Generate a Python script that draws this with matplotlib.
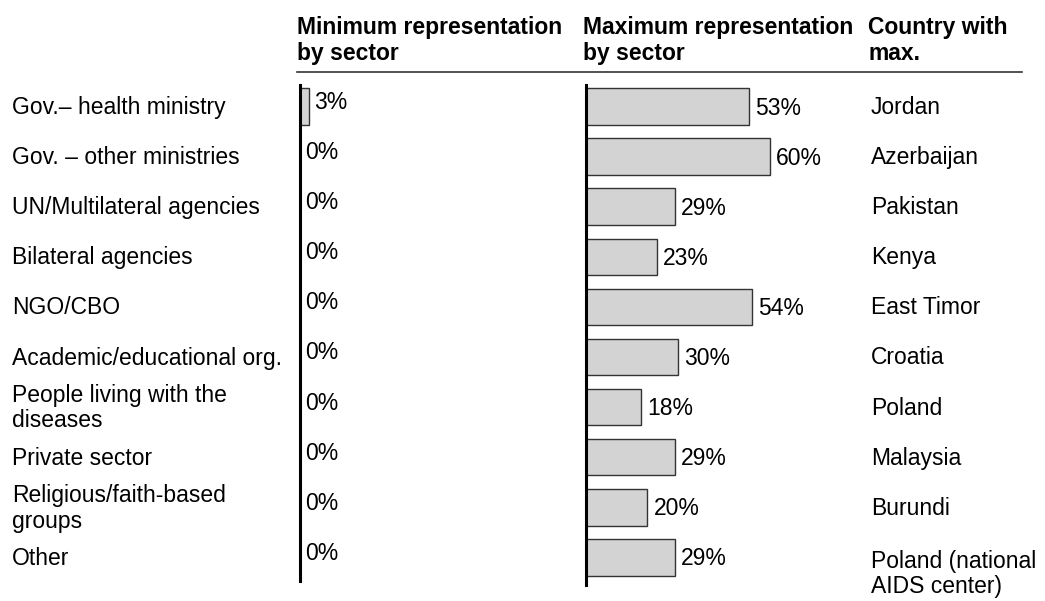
import matplotlib
matplotlib.use("Agg")
import matplotlib.pyplot as plt

plt.rcParams['font.family'] = ['Liberation Sans', 'DejaVu Sans']

sectors = ["Gov.\u2013 health ministry", "Gov. \u2013 other ministries",
           "UN/Multilateral agencies", "Bilateral agencies", "NGO/CBO",
           "Academic/educational org.", "People living with the\ndiseases",
           "Private sector", "Religious/faith-based\ngroups", "Other"]
min_rep = [3, 0, 0, 0, 0, 0, 0, 0, 0, 0]
max_rep = [53, 60, 29, 23, 54, 30, 18, 29, 20, 29]
countries = ["Jordan", "Azerbaijan", "Pakistan", "Kenya", "East Timor",
             "Croatia", "Poland", "Malaysia", "Burundi",
             "Poland (national\nAIDS center)"]

W, H = 1045, 601
fig = plt.figure(figsize=(W / 100, H / 100), dpi=100)

px_per = 3.07          # pixels per percentage point
row0, step = 106.5, 50.1
fs = 16.5


def fx(x):
    return x / W


def fy(y):
    return 1 - y / H


def make_ax(left, width, top, bottom):
    ax = fig.add_axes([fx(left), fy(bottom), width / W, (bottom - top) / H])
    ax.set_xlim(0, width / px_per)
    ax.set_ylim((bottom - row0) / step, (top - row0) / step)
    for s in ['top', 'right', 'bottom']:
        ax.spines[s].set_visible(False)
    ax.spines['left'].set_linewidth(2.2)
    ax.spines['left'].set_color('black')
    ax.set_xticks([])
    ax.set_yticks([])
    ax.patch.set_alpha(0)
    return ax


rows = list(range(len(sectors)))

ax1 = make_ax(300, 250, 85, 581)
ax1.barh(rows, min_rep, height=0.73, color='#d3d3d3', edgecolor='#333333', linewidth=1)
for i, v in enumerate(min_rep):
    ax1.text(v + 1.6, i - 0.08, f"{v}%", va='center', ha='left', fontsize=fs)

ax2 = make_ax(586, 270, 85, 585)
ax2.barh(rows, max_rep, height=0.73, color='#d3d3d3', edgecolor='#333333', linewidth=1)
for i, v in enumerate(max_rep):
    ax2.text(v + 2.0, i + 0.03, f"{v}%", va='center', ha='left', fontsize=fs)

# row labels and country names
for i, (s, c) in enumerate(zip(sectors, countries)):
    y = row0 + step * i
    fig.text(fx(12), fy(y + 1), s, ha='left', va='center', fontsize=fs, linespacing=1.15)
    if "\n" in c:
        fig.text(fx(871), fy(y - 7), c, ha='left', va='top', fontsize=fs, linespacing=1.1)
    else:
        fig.text(fx(871), fy(y + 1), c, ha='left', va='center', fontsize=fs)

# headers
hdr = dict(ha='left', va='top', fontsize=16.5, fontweight='bold', linespacing=1.15)
fig.text(fx(297), fy(16), "Minimum representation\nby sector", **hdr)
fig.text(fx(583), fy(16), "Maximum representation\nby sector", **hdr)
fig.text(fx(868), fy(16), "Country with\nmax.", **hdr)
fig.add_artist(plt.Line2D([fx(297), fx(1022)], [fy(72), fy(72)], color='#333333', linewidth=1.2))

fig.savefig("out.png", dpi=100)
